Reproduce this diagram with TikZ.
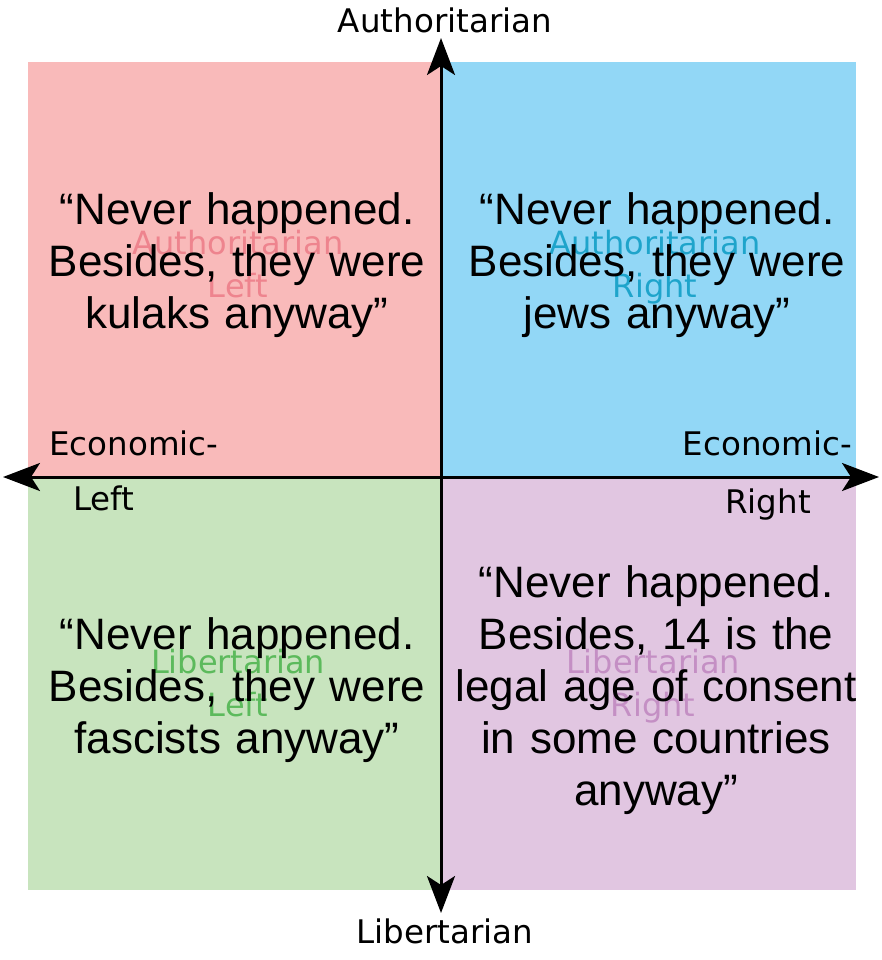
\documentclass[tikz,border=0pt]{standalone}
\usepackage{fontspec}
\newfontfamily\quotefont{Liberation Sans}
\newfontfamily\labelfont{DejaVu Sans}
\usetikzlibrary{arrows.meta}
\definecolor{qred}{RGB}{249,186,186}
\definecolor{qblue}{RGB}{146,215,246}
\definecolor{qgreen}{RGB}{200,228,190}
\definecolor{qpurple}{RGB}{225,198,225}
\definecolor{wred}{RGB}{238,132,142}
\definecolor{wblue}{RGB}{30,164,203}
\definecolor{wgreen}{RGB}{92,186,92}
\definecolor{wpurple}{RGB}{196,143,196}
\tikzset{
  quote/.style={font=\quotefont\fontsize{44}{52}\selectfont, text width=420pt, align=center, anchor=base, inner sep=0pt},
  wmark/.style={font=\labelfont\fontsize{32}{43}\selectfont, text width=300pt, align=center, anchor=base, inner sep=0pt},
  axlabel/.style={font=\labelfont\fontsize{32.5}{38}\selectfont, anchor=base, inner sep=0pt, text=black},
  axis/.style={line width=3pt, {Stealth[length=37pt,width=28pt,inset=9pt]}-{Stealth[length=37pt,width=28pt,inset=9pt]}}
}
\begin{document}
\begin{tikzpicture}[x=1pt,y=-1pt]
\useasboundingbox (0,0) rectangle (882,960);
\fill[white] (0,0) rectangle (882,960);
% quadrants
\fill[qred] (28,62) rectangle (441,477);
\fill[qblue] (441,62) rectangle (856,477);
\fill[qgreen] (28,477) rectangle (441,890);
\fill[qpurple] (441,477) rectangle (856,890);
% watermarks
\node[wmark, text=wred] (wal) at (238,254) {Authoritarian\\Left};
\node[wmark, text=wblue] (war) at (655,254) {Authoritarian\\Right};
\node[wmark, text=wgreen] (wll) at (238,673) {Libertarian\\Left};
\node[wmark, text=wpurple] (wlr) at (653,673) {Libertarian\\Right};
% quotes
\node[quote] (qal) at (237,224) {“Never happened.\\Besides, they were\\kulaks anyway”};
\node[quote] (qar) at (657,224) {“Never happened.\\Besides, they were\\jews anyway”};
\node[quote] (qll) at (237,649) {“Never happened.\\Besides, they were\\fascists anyway”};
\node[quote] (qlr) at (656,597) {“Never happened.\\Besides, 14 is the\\legal age of consent\\in some countries\\anyway”};
% axes
\coordinate (L) at (3,477);
\coordinate (R) at (879,477);
\coordinate (T) at (441,38);
\coordinate (B) at (441,913);
\draw[axis] (L) -- (R);
\draw[axis] (B) -- (T);
% axis labels
\node[axlabel] (auth) at (445,33) {Authoritarian};
\node[axlabel] (lib) at (445,943) {Libertarian};
\node[axlabel, anchor=base west] (el1) at (49,455) {Economic-};
\node[axlabel, anchor=base west] (el2) at (73,510) {Left};
\node[axlabel, anchor=base east] (er1) at (852,455) {Economic-};
\node[axlabel, anchor=base east] (er2) at (811,513) {Right};
\end{tikzpicture}
\end{document}
